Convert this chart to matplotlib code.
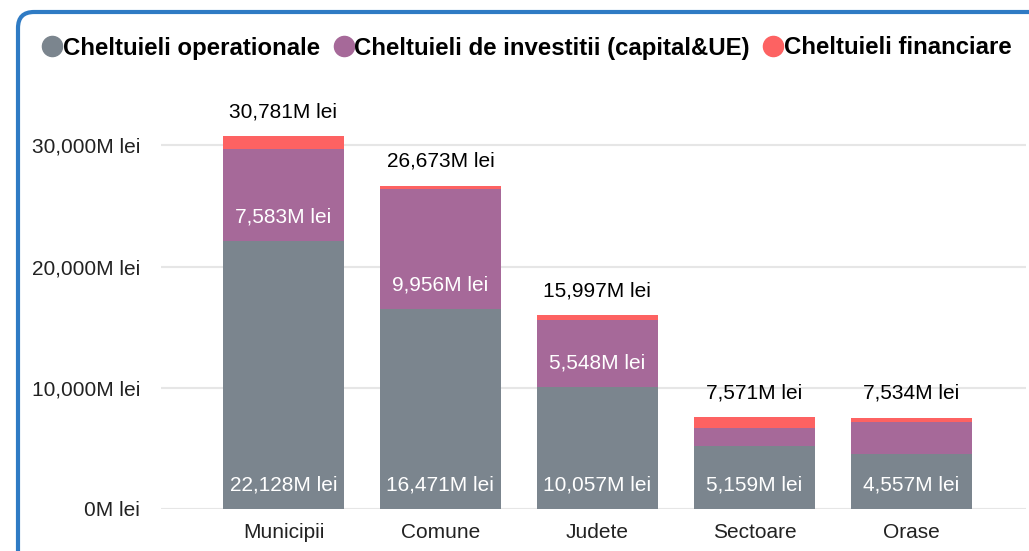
import matplotlib
matplotlib.use("Agg")
import matplotlib.pyplot as plt
from matplotlib.patches import FancyBboxPatch
from matplotlib.lines import Line2D
from matplotlib.ticker import FuncFormatter

plt.rcParams['font.family'] = ['Liberation Sans', 'DejaVu Sans']

categories = ["Municipii", "Comune", "Judete", "Sectoare", "Orase"]
operational = [22128, 16471, 10057, 5159, 4557]
investment = [7583, 9956, 5548, 1500, 2620]
financial = [1070, 246, 392, 912, 357]
totals = [30781, 26673, 15997, 7571, 7534]
series_names = ["Cheltuieli operationale", "Cheltuieli de investitii (capital&UE)", "Cheltuieli financiare"]
colors = ["#7B858E", "#A66999", "#FD6262"]
yticks = [0, 10000, 20000, 30000]

W, H = 1029, 551
fig = plt.figure(figsize=(W / 100, H / 100), dpi=100)
ax = fig.add_axes([161 / W, (H - 509) / H, (1026 - 161) / W, (509 - 97) / H])

x = list(range(len(categories)))
bw = 0.77
ax.bar(x, operational, width=bw, color=colors[0], zorder=2)
bottom2 = operational
ax.bar(x, investment, width=bw, bottom=bottom2, color=colors[1], zorder=2)
bottom3 = [a + b for a, b in zip(operational, investment)]
ax.bar(x, financial, width=bw, bottom=bottom3, color=colors[2], zorder=2)

fmt = lambda v: f"{v:,.0f}M lei"
FS = 15

for i in x:
    ax.annotate(fmt(operational[i]), (i, 0), xytext=(0, 17.3), textcoords="offset points",
                ha="center", va="center", color="white", fontsize=FS, zorder=3)
    if investment[i] > 4000:
        ax.annotate(fmt(investment[i]), (i, bottom2[i]), xytext=(0, 17.3), textcoords="offset points",
                    ha="center", va="center", color="white", fontsize=FS, zorder=3)
    top = bottom3[i] + financial[i]
    ax.annotate(fmt(totals[i]), (i, top), xytext=(0, 17.5), textcoords="offset points",
                ha="center", va="center", color="black", fontsize=FS, zorder=3)

ax.set_xlim(-0.78, 4.73)
ax.set_ylim(0, 34000)
ax.set_yticks(yticks)
ax.yaxis.set_major_formatter(FuncFormatter(lambda v, p: fmt(v)))
ax.set_xticks(x)
ax.set_xticklabels(categories)
ax.tick_params(axis="both", length=0, labelsize=FS, colors="#222222")
ax.tick_params(axis="y", pad=15)
ax.tick_params(axis="x", pad=10)
ax.grid(axis="y", color="#E6E6E6", linewidth=1.5, zorder=0)
for s in ax.spines.values():
    s.set_visible(False)

handles = [Line2D([], [], marker="o", linestyle="", markersize=14.5, color=c) for c in colors]
fig.legend(handles, series_names, loc="center left", bbox_to_anchor=(38 / W, 1 - 48 / H),
           ncol=3, frameon=False, handletextpad=-0.15, columnspacing=0.37, handlelength=1.2,
           prop={"weight": "bold", "size": 17.3}, borderaxespad=0, borderpad=0)

border = FancyBboxPatch((18, -40), 1060, H - 12 + 40, boxstyle="round,pad=0,rounding_size=16",
                        transform=None, fill=False, edgecolor="#2F7BC4", linewidth=3, clip_on=False)
fig.patches.append(border)

fig.savefig("out.png", dpi=100)
